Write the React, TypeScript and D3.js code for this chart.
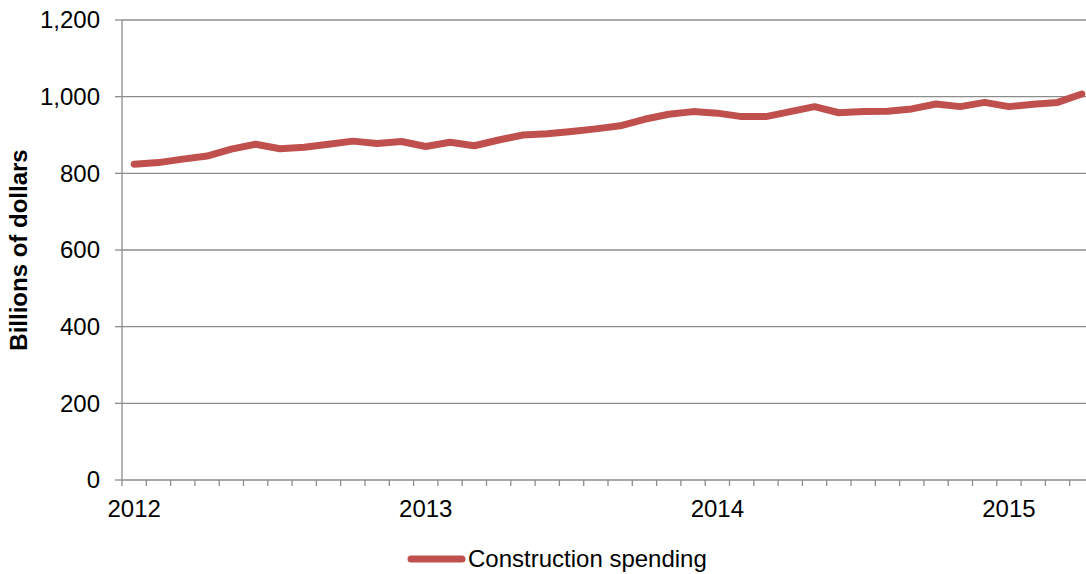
import React from 'react';
import * as d3 from 'd3';

// monthly, Jan 2012 .. Apr 2015
const months = d3.timeMonths(new Date(2012, 0, 1), new Date(2015, 4, 1));
const spending = [
  824, 828, 837, 845, 863, 876, 864, 868, 876, 884, 878, 883,
  870, 881, 872, 887, 900, 903, 909, 916, 924, 941, 954, 961,
  957, 948, 948, 961, 974, 958, 961, 962, 968, 981, 974, 985,
  974, 980, 985, 1007,
];
const yTicks = [0, 200, 400, 600, 800, 1000, 1200];
const seriesName = 'Construction spending';

const W = 1086;
const H = 574;
const left = 122;
const right = 1094; // plot area runs a little past the picture's edge
const top = 20;
const bottom = 480;
const font = 'Liberation Sans, Arial, sans-serif';

export default function App() {
  const x = d3.scaleBand<number>().domain(d3.range(months.length)).range([left, right]);
  const y = d3.scaleLinear().domain([0, 1200]).range([bottom, top]);
  const line = d3
    .line<number>()
    .x((_, i) => x(i)! + x.bandwidth() / 2)
    .y((d) => y(d));
  const fmt = d3.format(',');
  const boundaries = d3.range(months.length + 1).map((i) => left + i * x.bandwidth());

  return (
    <svg width={W} height={H} style={{ position: 'absolute', left: 0, top: 0 }}>
      <rect width={W} height={H} fill="#fff" />
      {yTicks.map((t) => (
        <g key={t}>
          {t > 0 && <line x1={left} x2={right} y1={y(t)} y2={y(t)} stroke="#8c8c8c" strokeWidth={1.3} />}
          <line x1={left - 7} x2={left} y1={y(t)} y2={y(t)} stroke="#8c8c8c" strokeWidth={1.3} />
          <text x={100} y={y(t)} dy="0.35em" textAnchor="end" fontFamily={font} fontSize={24} fill="#000">
            {fmt(t)}
          </text>
        </g>
      ))}
      <line x1={left} x2={left} y1={top} y2={bottom} stroke="#8c8c8c" strokeWidth={1.3} />
      <line x1={left} x2={right} y1={bottom} y2={bottom} stroke="#8c8c8c" strokeWidth={1.3} />
      {boundaries.map((bx, i) => (
        <line key={i} x1={bx} x2={bx} y1={bottom} y2={bottom + 6} stroke="#8c8c8c" strokeWidth={1.3} />
      ))}
      {months.map((m, i) =>
        m.getMonth() === 0 ? (
          <text
            key={i}
            x={x(i)! + x.bandwidth() / 2}
            y={517}
            textAnchor="middle"
            fontFamily={font}
            fontSize={24}
            fill="#000"
          >
            {d3.timeFormat('%Y')(m)}
          </text>
        ) : null
      )}
      <text
        transform={`translate(27,${(top + bottom) / 2}) rotate(-90)`}
        textAnchor="middle"
        fontFamily={font}
        fontSize={24}
        fontWeight="bold"
        fill="#000"
      >
        Billions of dollars
      </text>
      <path
        d={line(spending) ?? ''}
        fill="none"
        stroke="#c0504d"
        strokeWidth={7}
        strokeLinejoin="round"
        strokeLinecap="round"
      />
      <line x1={411} x2={462} y1={559} y2={559} stroke="#c0504d" strokeWidth={7} strokeLinecap="round" />
      <text x={468} y={559} dy="0.35em" fontFamily={font} fontSize={24} fill="#000">
        {seriesName}
      </text>
    </svg>
  );
}
